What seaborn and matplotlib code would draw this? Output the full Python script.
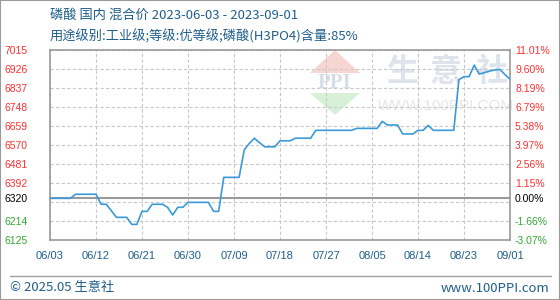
import matplotlib
matplotlib.use('Agg')
import matplotlib.pyplot as plt
import seaborn as sns
import pandas as pd
from matplotlib.patches import Polygon, Rectangle
from matplotlib.lines import Line2D

# ---------------- data ----------------
start_date = '2023-06-03'
end_date = '2023-09-01'
prices = [
    6320, 6320, 6320, 6320, 6320, 6339, 6339, 6339, 6339, 6339,
    6292, 6292, 6262, 6231, 6231, 6231, 6198, 6198, 6259, 6259,
    6292, 6292, 6292, 6278, 6242, 6278, 6278, 6301, 6301, 6301,
    6301, 6301, 6259, 6259, 6418, 6418, 6418, 6418, 6546, 6577,
    6601, 6580, 6561, 6561, 6561, 6589, 6589, 6589, 6601, 6601,
    6601, 6601, 6638, 6638, 6638, 6638, 6638, 6638, 6638, 6638,
    6647, 6647, 6647, 6647, 6647, 6680, 6663, 6663, 6663, 6621,
    6621, 6621, 6638, 6638, 6661, 6638, 6638, 6638, 6638, 6638,
    6875, 6889, 6889, 6943, 6901, 6908, 6915, 6920, 6923, 6899,
    6877,
]
base_price = 6320
left_ticks = [7015, 6926, 6837, 6748, 6659, 6570, 6481, 6392, 6320, 6214, 6125]
left_labels = ['7015', '6926', '6837', '6748', '6659', '6570', '6481', '6392', '6320', '6214', '6125']
right_labels = ['11.01%', '9.60%', '8.19%', '6.79%', '5.38%', '3.97%', '2.56%', '1.15%',
                '0.00%', '-1.66%', '-3.07%']
label_colors = ['#ff3030'] * 8 + ['#000000'] + ['#33a833'] * 2
grid_levels = [6125, 6214, 6303, 6392, 6481, 6570, 6659, 6748, 6837, 6926, 7015]
xtick_labels = ['06/03', '06/12', '06/21', '06/30', '07/09', '07/18',
                '07/27', '08/05', '08/14', '08/23', '09/01']
title_line1 = '磷酸 国内 混合价 2023-06-03 - 2023-09-01'
title_line2 = '用途级别:工业级;等级:优等级;磷酸(H3PO4)含量:85%'
footer_left = '© 2025.05 生意社'
footer_right = 'www.100PPI.com'
wm_chars = ['生', '意', '社']
wm_url = 'WWW.100PPI.COM'

# ---------------- style ----------------
sns.set_theme(style='white')
plt.rcParams['font.family'] = ['Noto Sans CJK SC', 'DejaVu Sans']

W, H = 560, 300
def fx(px):
    return px / W
def fy(py):
    return 1 - py / H

fig = plt.figure(figsize=(5.6, 3.0), dpi=100)
ax = fig.add_axes([fx(50), fy(240), 460 / W, 190.3 / H])

df = pd.DataFrame({'date': pd.date_range(start_date, end_date), 'price': prices})
tick_dates = pd.date_range(start_date, end_date, freq='9D')

sns.lineplot(data=df, x='date', y='price', ax=ax, color='#3a9ad9', linewidth=1.2, zorder=3)

ax.set_xlim(df['date'].iloc[0], df['date'].iloc[-1])
ax.set_ylim(6125, 7015)

# grid
for g in grid_levels:
    ax.axhline(g, color='#c8c8c8', lw=0.8, ls=(0, (3, 2)), zorder=1)
for d in tick_dates:
    ax.axvline(d, color='#c8c8c8', lw=0.8, ls=(0, (3, 2)), zorder=1)
ax.axhline(base_price, color='#9a9a9a', lw=1.5, zorder=2)

for s in ax.spines.values():
    s.set_color('#9a9a9a')
    s.set_linewidth(1.2)

ax.set_xlabel('')
ax.set_ylabel('')
ax.set_yticks(left_ticks)
ax.set_yticklabels(left_labels, family='Liberation Sans', fontsize=7.5)
for lbl, c in zip(ax.get_yticklabels(), label_colors):
    lbl.set_color(c)
ax.tick_params(axis='y', length=0, pad=16)
ax.set_xticks(tick_dates)
ax.set_xticklabels(xtick_labels, family='Liberation Sans', fontsize=8, color='#1f5f8b')
ax.tick_params(axis='x', length=0, pad=8)

ax2 = ax.twinx()
ax2.set_ylim(ax.get_ylim())
ax2.set_yticks(left_ticks)
ax2.set_yticklabels(right_labels, family='Liberation Sans', fontsize=7.5)
for lbl, c in zip(ax2.get_yticklabels(), label_colors):
    lbl.set_color(c)
ax2.tick_params(axis='y', length=0, pad=3.6)
for s in ax2.spines.values():
    s.set_visible(False)
ax2.grid(False)
ax.grid(False)

# watermark
tf = fig.transFigure
ax.add_patch(Polygon([(fx(335), fy(50)), (fx(310), fy(73)), (fx(360), fy(73))],
                     closed=True, transform=tf, facecolor='#f7d6d2', edgecolor='none', zorder=0.2))
ax.add_patch(Polygon([(fx(310), fy(93)), (fx(360), fy(93)), (fx(335), fy(115))],
                     closed=True, transform=tf, facecolor='#d8f0d8', edgecolor='none', zorder=0.2))
ax.text(fx(335), fy(83), 'PPI', transform=tf, ha='center', va='center', fontsize=15,
        family='Liberation Serif', fontweight='bold', color='#d6dce8', zorder=0.3)
for ch, cx in zip(wm_chars, [402, 446, 492]):
    ax.text(fx(cx), fy(72), ch, transform=tf, ha='center', va='center', fontsize=23,
            fontweight='bold', color='#dfe3ec', zorder=0.3)
ax.text(fx(446), fy(106), wm_url, transform=tf, ha='center', va='center', fontsize=11,
        family='Liberation Sans', color='#e6e6e6', zorder=0.3)

# titles
fig.text(fx(50), fy(15), title_line1, ha='left', va='center', fontsize=9.5, color='#1f5f8b')
fig.text(fx(50), fy(36.5), title_line2, ha='left', va='center', fontsize=9.5, color='#1f5f8b')

# footer
fig.add_artist(Line2D([fx(10), fx(551)], [fy(276), fy(276)], transform=tf, color='#a0a0a0', lw=1))
fig.text(fx(10), fy(288), footer_left, ha='left', va='center', fontsize=9.5, color='#1f5f8b')
fig.text(fx(549), fy(288), footer_right, ha='right', va='center', fontsize=9.5, color='#1f5f8b')
fig.add_artist(Rectangle((0, 0), 1, 1, transform=tf, fill=False, edgecolor='#9a9a9a', lw=1.5))

fig.savefig('out.png', dpi=100)
